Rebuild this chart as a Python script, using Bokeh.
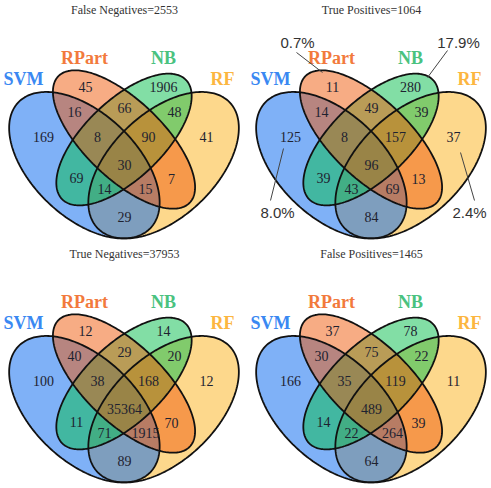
import numpy as np
from bokeh.plotting import figure
from bokeh.models import Range1d, ColumnDataSource
from bokeh.embed import file_html
from bokeh.resources import INLINE
from bokeh.core.properties import value

# ---------------- data ----------------
set_names = ["SVM", "RPart", "NB", "RF"]
panel_titles = ["False Negatives=2553", "True Positives=1064",
                "True Negatives=37953", "False Positives=1465"]
region_keys = ["SVM", "RPart", "NB", "RF",
               "SVM&RPart", "SVM&NB", "SVM&RF", "RPart&NB", "RPart&RF", "NB&RF",
               "SVM&RPart&NB", "SVM&RPart&RF", "SVM&NB&RF", "RPart&NB&RF", "ALL"]
fn_counts = [169, 45, 1906, 41, 16, 69, 29, 66, 7, 48, 8, 15, 14, 90, 30]
tp_counts = [125, 11, 280, 37, 14, 39, 84, 49, 13, 39, 8, 69, 43, 157, 96]
tn_counts = [100, 12, 14, 12, 40, 11, 89, 29, 70, 20, 38, 1915, 71, 168, 35364]
fp_counts = [166, 37, 78, 11, 30, 14, 64, 75, 39, 22, 35, 264, 22, 119, 489]
tp_pct_labels = ["0.7%", "17.9%", "8.0%", "2.4%"]

# ---------------- styles / layout ----------------
label_colors = {"SVM": "#3A88F2", "RPart": "#F27A3C", "NB": "#4AC27F", "RF": "#FCB640"}
fill_colors = {"SVM": "#0064F0", "RPart": "#F05A0A", "NB": "#05BD4B", "RF": "#FBB119"}
# VennDiagram quad ellipses in unit coords: cx, cy, a, b, angle(deg)
ellipses = {"SVM": (0.35, 0.47, 0.35, 0.20, 135),
            "RPart": (0.50, 0.57, 0.35, 0.15, 135),
            "NB": (0.50, 0.57, 0.33, 0.15, 45),
            "RF": (0.65, 0.47, 0.35, 0.20, 45)}
draw_order = ["RF", "SVM", "NB", "RPart"]
OX, OY, SX, SY = -8.5, 285.5, 264.0, 257.0
panel_offsets = [(0, 0), (247, 0), (0, 244), (247, 244)]
region_pos = {"SVM": (43, 136), "RPart": (85, 86), "NB": (163, 86), "RF": (206, 136),
              "SVM&RPart": (74, 111), "SVM&NB": (76, 177), "SVM&RF": (124, 216),
              "RPart&NB": (124, 107), "RPart&RF": (171, 178), "NB&RF": (174, 111),
              "SVM&RPart&NB": (97, 136), "SVM&RPart&RF": (145, 188),
              "SVM&NB&RF": (104, 188), "RPart&NB&RF": (148, 136), "ALL": (124, 164)}
cat_pos = {"SVM": (23, 78), "RPart": (84, 57), "NB": (163, 57), "RF": (222, 78)}
title_pos = (124, 9)
pct_text_pos = [(50, 42), (211, 42), (30, 212), (222, 212)]
pct_lines = [((49, 52), (75, 72)), ((200, 50), (180, 77)),
             ((23, 200), (36, 148)), ((227, 200), (213, 152))]

W, H = 491, 488

p = figure(width=W, height=H, x_range=Range1d(0, W), y_range=Range1d(0, H),
           toolbar_location=None, output_backend="svg", min_border=0,
           x_axis_location=None, y_axis_location=None)
p.grid.grid_line_color = None
p.outline_line_color = None
p.background_fill_color = "white"
p.border_fill_color = "white"


def ell_poly(name, off):
    cx, cy, a, b, ang = ellipses[name]
    th = np.deg2rad(ang)
    t = np.linspace(0, 2 * np.pi, 240)
    u = cx + a * np.cos(t) * np.cos(th) - b * np.sin(t) * np.sin(th)
    v = cy + a * np.cos(t) * np.sin(th) + b * np.sin(t) * np.cos(th)
    px = off[0] + OX + SX * u
    py = off[1] + OY - SY * v
    return list(px), list(H - py)


all_counts = [fn_counts, tp_counts, tn_counts, fp_counts]

for k, off in enumerate(panel_offsets):
    for name in draw_order:
        xs, ys = ell_poly(name, off)
        p.patch(xs, ys, fill_color=fill_colors[name], fill_alpha=0.5, line_color=None)
    for name in draw_order:
        xs, ys = ell_poly(name, off)
        p.line(xs, ys, line_color="#111111", line_width=1.8)
    counts = all_counts[k]
    src = ColumnDataSource(dict(
        x=[off[0] + region_pos[r][0] for r in region_keys],
        y=[H - (off[1] + region_pos[r][1]) for r in region_keys],
        t=[str(c) for c in counts]))
    p.text(x="x", y="y", text="t", source=src, text_font=value("Liberation Serif"),
           text_font_size="14px", text_align="center", text_baseline="middle",
           text_color="#1e2230")
    for name in set_names:
        cx, cy = cat_pos[name]
        p.text(x=[off[0] + cx], y=[H - (off[1] + cy)], text=[name],
               text_font=value("Liberation Serif"), text_font_size="18px",
               text_font_style="bold", text_align="center", text_baseline="middle",
               text_color=label_colors[name])
    p.text(x=[off[0] + title_pos[0]], y=[H - (off[1] + title_pos[1])], text=[panel_titles[k]],
           text_font=value("Liberation Serif"), text_font_size="12px",
           text_align="center", text_baseline="middle", text_color="#333333")

off = panel_offsets[1]
for (tx, ty), lab, ((x0, y0), (x1, y1)) in zip(pct_text_pos, tp_pct_labels, pct_lines):
    p.line([off[0] + x0, off[0] + x1], [H - (off[1] + y0), H - (off[1] + y1)],
           line_color="#444444", line_width=1)
    p.text(x=[off[0] + tx], y=[H - (off[1] + ty)], text=[lab],
           text_font=value("Liberation Sans"), text_font_size="15px",
           text_align="center", text_baseline="middle", text_color="#333333")

open("out.html", "w").write(file_html(p, INLINE))
